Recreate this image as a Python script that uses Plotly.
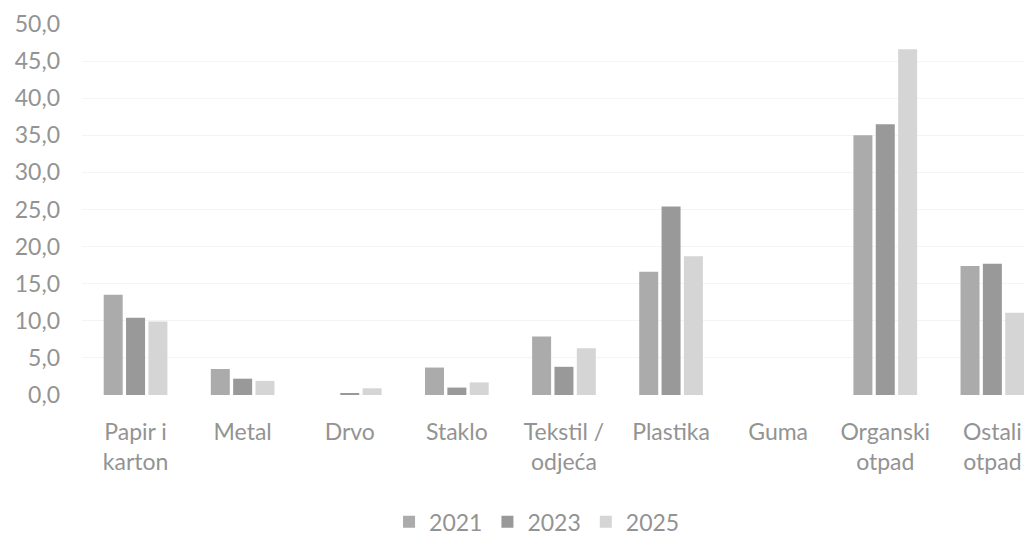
import plotly.graph_objects as go

categories = ["Papir i<br>karton", "Metal", "Drvo", "Staklo", "Tekstil /<br>odjeća",
              "Plastika", "Guma", "Organski<br>otpad", "Ostali<br>otpad"]
years = ["2021", "2023", "2025"]
values_2021 = [13.5, 3.5, 0.0, 3.7, 7.9, 16.6, 0.0, 35.0, 17.4]
values_2023 = [10.4, 2.2, 0.2, 1.0, 3.8, 25.4, 0.0, 36.5, 17.7]
values_2025 = [9.9, 1.9, 0.9, 1.7, 6.3, 18.7, 0.0, 46.6, 11.1]
y_ticks = [0, 5, 10, 15, 20, 25, 30, 35, 40, 45, 50]

series = [values_2021, values_2023, values_2025]
colors = ["#ababab", "#999999", "#d5d5d5"]
idx = list(range(len(categories)))

fig = go.Figure()
for name, vals, col in zip(years, series, colors):
    fig.add_trace(go.Bar(x=idx, y=vals, name=name, marker=dict(color=col, line=dict(width=0))))

font_main = "Lato, 'Open Sans', sans-serif"
text_col = "#939393"

fig.update_layout(
    width=1024, height=529,
    template="none",
    paper_bgcolor="white", plot_bgcolor="white",
    margin=dict(l=74, r=0, t=16, b=142, autoexpand=False),
    barmode="group", bargap=0.374, bargroupgap=0.15,
    separators=", ",
    font=dict(family=font_main, size=23, color=text_col),
    showlegend=True,
    legend=dict(orientation="h", x=0.479, xanchor="center", y=-0.342, yanchor="middle",
                font=dict(size=23, color=text_col), itemwidth=30, traceorder="normal",
                bgcolor="rgba(0,0,0,0)"),
    xaxis=dict(range=[-0.5, 8.37], tickmode="array", tickvals=idx, ticktext=categories,
               showgrid=False, zeroline=False, showline=False, ticks="",
               ticklabelstandoff=21, automargin=False,
               tickfont=dict(size=23, color=text_col, family=font_main)),
    yaxis=dict(range=[0, 50], tickvals=y_ticks, tickformat=".1f",
               showgrid=True, gridcolor="#f4f4f4", gridwidth=1,
               zeroline=False, showline=False, ticks="",
               ticklabelstandoff=21, automargin=False,
               tickfont=dict(size=23, color=text_col, family=font_main)),
)

fig.write_html("out.html")
